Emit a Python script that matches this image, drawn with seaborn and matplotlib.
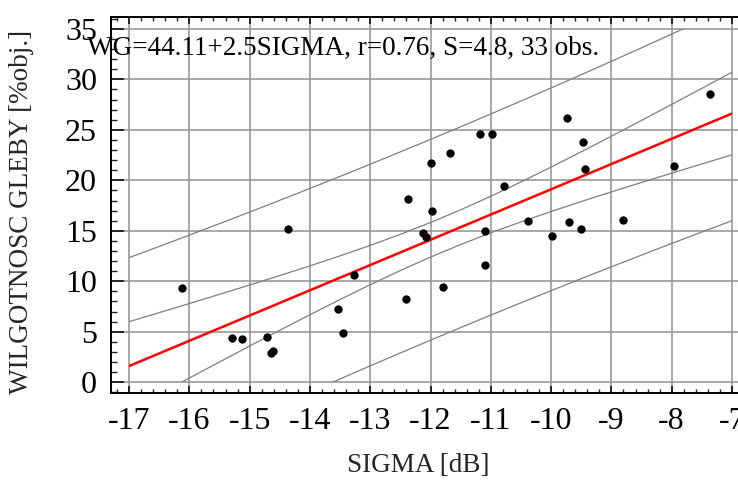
import numpy as np
import pandas as pd
import matplotlib
matplotlib.use("Agg")
import matplotlib.pyplot as plt
from matplotlib.patches import Rectangle
from matplotlib.ticker import MultipleLocator
import seaborn as sns

# Backscatter coefficient (dB) and soil moisture (% vol.) for 33 sampling points
sigma = [-12.00, -11.67, -11.18, -10.98, -10.78, -9.73, -9.47, -9.44, -7.96, -7.36,
         -12.37, -14.37, -16.13, -15.30, -15.13, -14.72, -14.64, -14.62, -13.54,
         -13.46, -13.27, -12.41, -11.98, -12.13, -12.07, -11.79, -11.09, -11.09,
         -10.39, -9.98, -9.70, -9.50, -8.81]
moisture = [21.7, 22.7, 24.55, 24.55, 19.4, 26.2, 23.8, 21.1, 21.4, 28.5,
            18.1, 15.2, 9.3, 4.35, 4.25, 4.45, 2.9, 3.05, 7.26,
            4.88, 10.6, 8.25, 17.0, 14.75, 14.36, 9.4, 14.95, 11.6,
            16.0, 14.5, 15.9, 15.15, 16.1]

# Fitted model as reported: WG = a + b * SIGMA
intercept = 44.11
slope = 2.5
r_value = 0.76
std_err = 4.8
t_crit = 2.04  # Student t, 0.975 quantile, 31 d.f.

x_ticks = [-17, -16, -15, -14, -13, -12, -11, -10, -9, -8, -7]
y_ticks = [0, 5, 10, 15, 20, 25, 30, 35]

sns.set_style("ticks")
plt.rcParams["font.family"] = ["Liberation Serif", "DejaVu Serif"]

fig = plt.figure(figsize=(7.38, 4.84), dpi=100)
W, H = 738, 484
ax = fig.add_axes([111 / W, 1 - 393.3 / H, (738 - 111) / W, (393.3 - 17.3) / H])

n = len(sigma)
xs = np.array(sigma)
x_mean = xs.mean()
sxx = ((xs - x_mean) ** 2).sum()

grid_x = np.arange(x_ticks[0], x_ticks[-1] + 0.001, 0.5)
fit = intercept + slope * grid_x
conf = t_crit * std_err * np.sqrt(1 / n + (grid_x - x_mean) ** 2 / sxx)
pred = t_crit * std_err * np.sqrt(1 + 1 / n + (grid_x - x_mean) ** 2 / sxx)

bands = pd.DataFrame({
    "x": np.tile(grid_x, 4),
    "y": np.concatenate([fit + conf, fit - conf, fit + pred, fit - pred]),
    "band": np.repeat(["c_hi", "c_lo", "p_hi", "p_lo"], len(grid_x)),
})
fit_df = pd.DataFrame({"x": grid_x, "y": fit})
pts = pd.DataFrame({"SIGMA": sigma, "WG": moisture})

sns.lineplot(data=bands, x="x", y="y", units="band", estimator=None,
             color="#7f7f7f", lw=0.9, sort=False, ax=ax, zorder=3)
sns.lineplot(data=fit_df, x="x", y="y", color="#ff0000", lw=1.8, ax=ax, zorder=4)
sns.scatterplot(data=pts, x="SIGMA", y="WG", color="black", s=36,
                edgecolor="black", linewidth=0, ax=ax, zorder=5)

# Keep the curves inside the plotting field [-17, -7] x [0, 35]
clip = Rectangle((x_ticks[0], y_ticks[0]), x_ticks[-1] - x_ticks[0],
                 y_ticks[-1] - y_ticks[0], transform=ax.transData)
for ln in ax.lines:
    ln.set_clip_path(clip)

ax.set_xlim(-17.3, -6.9)
ax.set_ylim(-1.09, 36.14)
ax.set_xticks(x_ticks)
ax.set_yticks(y_ticks)
ax.set_xticklabels([str(v) for v in x_ticks])
ax.set_yticklabels([str(v) for v in y_ticks])
ax.xaxis.set_minor_locator(MultipleLocator(0.2))
ax.yaxis.set_minor_locator(MultipleLocator(1))

ax.grid(True, which="major", color="#9a9a9a", lw=1.2)
ax.set_axisbelow(True)

for side in ["left", "top", "bottom"]:
    ax.spines[side].set_linewidth(1.4)
    ax.spines[side].set_color("black")
ax.spines["right"].set_visible(False)

ax.tick_params(axis="x", which="major", direction="in", length=5, width=1.1,
               top=True, bottom=True, labelsize=23, pad=10, colors="black")
ax.tick_params(axis="x", which="minor", direction="in", length=3, width=1.0,
               top=True, bottom=True)
ax.tick_params(axis="y", which="major", direction="in", length=9, width=1.1,
               left=True, right=False, labelsize=23, pad=10, colors="black")
ax.tick_params(axis="y", which="minor", direction="in", length=4.5, width=1.0,
               left=True, right=False)

ax.set_xlabel("SIGMA [dB]", fontsize=19.5)
ax.set_ylabel("WILGOTNOSC GLEBY [%obj.]", fontsize=19.5)
ax.xaxis.set_label_coords((418.5 - 111) / 627, (393.3 - 466) / 376)
ax.xaxis.label.set_va("center")
ax.yaxis.set_label_coords((22 - 111) / 627, (393.3 - 212) / 376)
ax.yaxis.label.set_va("center")

fig.text(87 / W, 1 - 48 / H,
         f"WG={intercept:.2f}+{slope}SIGMA, r={r_value}, S={std_err}, {n} obs.",
         ha="left", va="center", fontsize=19.5, color="black")

fig.savefig("out.png", dpi=100)
